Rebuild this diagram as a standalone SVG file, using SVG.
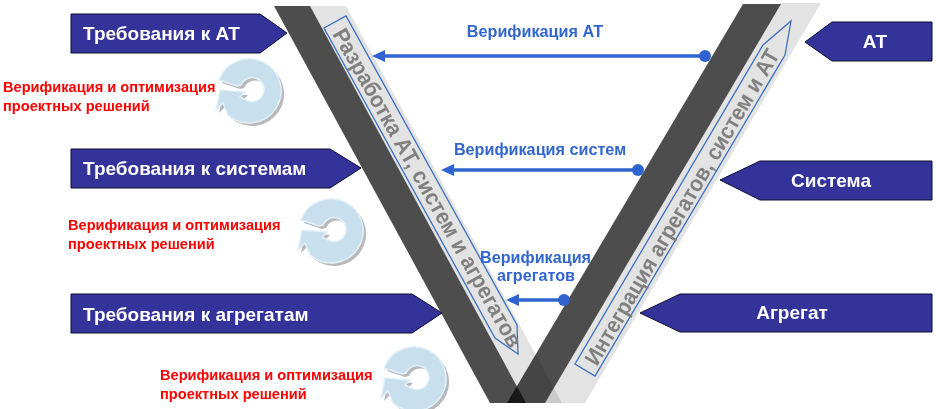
<svg xmlns="http://www.w3.org/2000/svg" xmlns:xlink="http://www.w3.org/1999/xlink" width="936" height="409" viewBox="0 0 936 409">
<style>
text{font-family:"Liberation Sans",Arial,sans-serif;font-weight:bold}
.node{fill:#333399;stroke:#0d0d33;stroke-width:1}
.nt{fill:#fff;font-size:19px}
.dark{fill:#4d4d4d;mix-blend-mode:multiply}
.light{fill:#e3e3e3;mix-blend-mode:multiply}
.box{fill:none;stroke:#3c6fc4;stroke-width:1.3}
.band{fill:#808080;font-size:22.5px}
.lbl{fill:#3366cc;font-size:16.2px}
.red{fill:#ff0000;font-size:14.6px}
.conn{stroke:#2f64d0;stroke-width:3.5;fill:none;marker-end:url(#ah)}
.dot{fill:#2f64d0}
</style>
<defs>
<marker id="ah" markerUnits="userSpaceOnUse" markerWidth="14" markerHeight="14" refX="1" refY="6" orient="auto"><path d="M0 6L13 0V12Z" transform="matrix(-1 0 0 1 13 0)" fill="#2f64d0"/></marker>
<path id="swirl" d="M219 80A32 32 0 1 1 228 115L223 103L216 110L220 90L245 92L240 97L246 100A12 12 0 1 0 241 85L237 86Z"/>
<g id="cycle">
<use xlink:href="#swirl" href="#swirl" x="3" y="3" fill="#b9b9b9"/>
<use xlink:href="#swirl" href="#swirl" fill="#c8dfed" stroke="#e2f0f9" stroke-width="1.5"/>
</g>
</defs>
<rect width="936" height="409" fill="#fff"/>
<g id="v-shape">
<polygon class="light" points="310,6 346,6 562,403 526,403"/>
<polygon class="dark" points="274,6 310,6 526,403 490,403"/>
<polygon class="light" points="781,3 821,3 585,403 545,403"/>
<polygon class="dark" points="743,4 781,4 545,403 507,403"/>
<polygon class="box" points="324,28 346,16 517,325 518,354 495,338"/>
<polygon class="box" points="791,21 785,55 595,376 575,364 763,45"/>
<text class="band" transform="translate(332,34) rotate(60.6)" textLength="362" lengthAdjust="spacingAndGlyphs">Разработка АТ, систем и агрегатов</text>
<text class="band" transform="translate(597,367) rotate(-59.6)" textLength="362" lengthAdjust="spacingAndGlyphs">Интеграция агрегатов, систем и АТ</text>
</g>
<g id="connectors">
<line class="conn" x1="705" y1="56" x2="384" y2="56"/>
<circle class="dot" cx="705" cy="56" r="6"/>
<line class="conn" x1="638" y1="170" x2="453" y2="170"/>
<circle class="dot" cx="638" cy="170" r="6"/>
<line class="conn" x1="564" y1="300" x2="518" y2="300"/>
<circle class="dot" cx="564" cy="300" r="6"/>
</g>
<g id="req-at"><polygon class="node" points="71,14 260,14 287,33 260,53 71,53"/><text class="nt" x="83" y="40">Требования к АТ</text></g>
<g id="req-sys"><polygon class="node" points="71,149 330,149 361,168 330,188 71,188"/><text class="nt" x="83" y="175">Требования к системам</text></g>
<g id="req-agg"><polygon class="node" points="71,294 412,294 442,313 412,333 71,333"/><text class="nt" x="83" y="321">Требования к агрегатам</text></g>
<g id="at"><polygon class="node" points="932,22 832,22 805,42 832,61 932,61"/><text class="nt" x="875" y="48" text-anchor="middle">АТ</text></g>
<g id="sys"><polygon class="node" points="932,161 760,161 720,180 760,200 932,200"/><text class="nt" x="831" y="187" text-anchor="middle">Система</text></g>
<g id="agg"><polygon class="node" points="932,294 680,294 640,313 680,332 932,332"/><text class="nt" x="792" y="319" text-anchor="middle">Агрегат</text></g>
<g id="labels">
<text class="lbl" x="535" y="37" text-anchor="middle">Верификация АТ</text>
<text class="lbl" x="540" y="155" text-anchor="middle">Верификация систем</text>
<text class="lbl" x="535.5" y="263" text-anchor="middle">Верификация</text>
<text class="lbl" x="536" y="281" text-anchor="middle">агрегатов</text>
</g>
<g id="cycle1"><use xlink:href="#cycle" href="#cycle"/><text class="red" x="3" y="92">Верификация и оптимизация</text><text class="red" x="3" y="111">проектных решений</text></g>
<g id="cycle2"><use xlink:href="#cycle" href="#cycle" x="82" y="140"/><text class="red" x="68" y="230">Верификация и оптимизация</text><text class="red" x="68" y="249">проектных решений</text></g>
<g id="cycle3"><use xlink:href="#cycle" href="#cycle" x="165" y="288"/><text class="red" x="160" y="380">Верификация и оптимизация</text><text class="red" x="160" y="399">проектных решений</text></g>
</svg>
